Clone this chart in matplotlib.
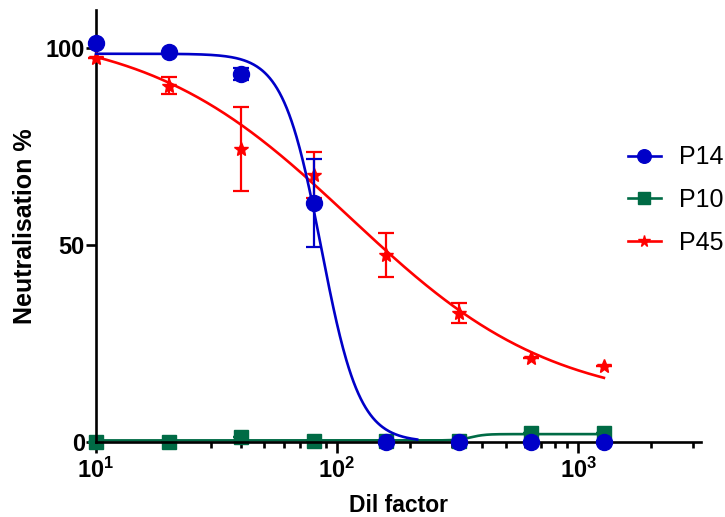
import numpy as np
import matplotlib
matplotlib.use("Agg")
import matplotlib.pyplot as plt
from matplotlib.ticker import LogLocator, FixedLocator, FuncFormatter, NullFormatter

plt.rcParams['font.family'] = ['Liberation Sans', 'DejaVu Sans']
plt.rcParams['mathtext.fontset'] = 'custom'
plt.rcParams['mathtext.rm'] = 'Liberation Sans'
plt.rcParams['mathtext.bf'] = 'Liberation Sans:bold'

# dilution factors
dil = [10, 20, 40, 80, 160, 320, 640, 1280]

# mean neutralisation % and error
p14 = [101.3, 99.0, 93.3, 60.7, 0.0, 0.0, 0.0, 0.0]
p14_err = [0.0, 0.0, 1.5, 11.2, 0.0, 0.0, 0.0, 0.0]
p10 = [0.0, 0.0, 1.3, 0.3, 0.3, 0.3, 2.2, 2.2]
p10_err = [0.0, 0.0, 0.0, 0.0, 0.0, 0.0, 0.0, 0.0]
p45 = [97.5, 90.4, 74.3, 67.8, 47.5, 32.7, 21.3, 19.3]
p45_err = [0.0, 2.2, 10.6, 5.8, 5.6, 2.6, 0.0, 0.0]

# fitted curves: (y at low dilution, y at high dilution, ec50, hill, x from, x to)
fit_p14 = (98.5, 0.0, 86.0, 5.5, 10, 215)
fit_p10 = (0.4, 2.0, 360.0, 15.0, 10, 1280)
fit_p45 = (105.0, 9.0, 113.0, 1.03, 10, 1280)

blue = '#0000C8'
green = '#006B45'
red = '#FF0000'


def curve(params):
    y_lo, y_hi, ec50, hill, x0, x1 = params
    xs = np.logspace(np.log10(x0), np.log10(x1), 400)
    return xs, y_hi + (y_lo - y_hi) / (1 + (xs / ec50) ** hill)


fig = plt.figure(figsize=(7.25, 5.17), dpi=100)
ax = fig.add_axes([96 / 725, 1 - 442 / 517, 605 / 725, 432 / 517])

series = [
    ('P10', p10, p10_err, fit_p10, green, 's', 9.5, 2),
    ('P45', p45, p45_err, fit_p45, red, '*', 10, 3),
    ('P14', p14, p14_err, fit_p14, blue, 'o', 11.5, 4),
]
handles = {}
for name, y, err, fit, color, marker, ms, z in series:
    xs, ys = curve(fit)
    ax.plot(xs, ys, color=color, lw=1.9, zorder=z, clip_on=False)
    ax.errorbar(dil, y, yerr=err, fmt='none', ecolor=color, elinewidth=1.6,
                capsize=6, capthick=1.6, zorder=z, clip_on=False)
    ax.plot(dil, y, linestyle='none', marker=marker, ms=ms, color=color,
            mec=color, zorder=z + 0.5, clip_on=False)
    handles[name] = ax.plot([], [], color=color, lw=1.9, marker=marker,
                            ms=ms * 0.85, mec=color)[0]

ax.set_xscale('log')
ax.set_xlim(10, 10 ** 3.51)
ax.set_ylim(0, 109.6)

ax.xaxis.set_major_locator(FixedLocator([10, 100, 1000]))
ax.xaxis.set_minor_locator(LogLocator(base=10, subs=np.arange(2, 10)))
ax.xaxis.set_minor_formatter(NullFormatter())
ax.xaxis.set_major_formatter(FuncFormatter(
    lambda v, p: r'$\mathbf{10^{%d}}$' % round(np.log10(v))))
ax.set_yticks([0, 50, 100])

for s in ['top', 'right']:
    ax.spines[s].set_visible(False)
for s in ['left', 'bottom']:
    ax.spines[s].set_linewidth(1.9)

ax.tick_params(axis='both', which='major', direction='out', width=1.9,
               length=7, labelsize=17, pad=1)
ax.tick_params(axis='x', which='major', length=8, pad=3)
ax.tick_params(axis='x', which='minor', direction='out', width=1.9, length=4)
for lab in ax.get_yticklabels():
    lab.set_fontweight('bold')

ax.set_xlabel('Dil factor', fontsize=16.5, fontweight='bold', labelpad=8)
ax.set_ylabel('Neutralisation %', fontsize=18, fontweight='bold', labelpad=6)

leg = fig.legend([handles['P14'], handles['P10'], handles['P45']],
                 ['P14', 'P10', 'P45'], loc='center left',
                 bbox_to_anchor=(628 / 725, 1 - 200 / 517), frameon=False,
                 fontsize=18, handlelength=1.3, handletextpad=0.75,
                 labelspacing=0.75, borderpad=0, borderaxespad=0)

fig.savefig('out.png', dpi=100)
